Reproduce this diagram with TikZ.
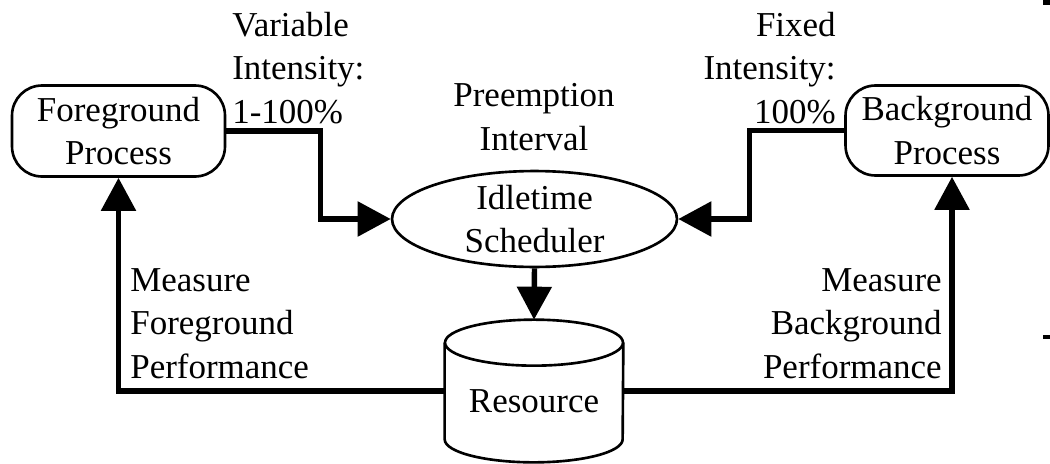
\documentclass[tikz,border=0pt]{standalone}
\usepackage{fontspec}
\setmainfont{Liberation Serif}
\usetikzlibrary{arrows.meta,shapes.geometric,calc}
\begin{document}
\begin{tikzpicture}[x=0.02cm,y=-0.02cm,
  txt/.style={font=\fontsize{19.9}{24.6}\selectfont, inner sep=0pt},
  shapeline/.style={draw, line width=1.5pt},
  proc/.style={shapeline, rounded corners=0.6cm, align=center, txt},
  conn/.style={line width=3.1pt, -{Triangle[length=0.66cm,width=0.68cm]}},
 ]
\useasboundingbox (0,0) rectangle (1050,463);

% nodes
\node[proc, minimum width=4.26cm, minimum height=1.82cm] (fg) at (118.5,131) {Foreground\\Process};
\node[proc, minimum width=4.06cm, minimum height=1.8cm] (bg) at (947,130.5) {Background\\Process};
\node[ellipse, shapeline, txt, align=center, minimum width=5.7cm, minimum height=1.76cm] (sch) at (534.5,219) {Idletime\\Scheduler};
\node[minimum width=3.56cm, minimum height=2.84cm, inner sep=0pt] (res) at (534,391) {};
\node[txt, anchor=base] (restxt) at (534,412) {Resource};

% cylinder outline
\draw[line width=1.5pt] ([yshift=-0.46cm]res.north) ellipse [x radius=1.78cm, y radius=0.46cm];
\draw[line width=1.5pt] ([yshift=-0.46cm]res.north west) -- ([yshift=0.46cm]res.south west)
  arc[start angle=180, end angle=360, x radius=1.78cm, y radius=0.46cm]
  -- ([yshift=-0.46cm]res.north east);

% labels (base anchor = baseline of last line)
\node[txt, align=left, anchor=base west] (lvar) at (232,123) {Variable\\Intensity:\\1-100\%};
\node[txt, align=right, anchor=base east] (lfix) at (836,123) {Fixed\\Intensity:\\100\%};
\node[txt, align=center, anchor=base] (lpre) at (534,150) {Preemption\\Interval};
\node[txt, align=left, anchor=base west] (lmf) at (130,378) {Measure\\Foreground\\Performance};
\node[txt, align=right, anchor=base east] (lmb) at (942,378) {Measure\\Background\\Performance};

% connectors
\draw[conn] (fg.east) -| ([xshift=-1.4cm]sch.west) -- (sch.west);
\draw[conn] (bg.west) -| ([xshift=1.42cm]sch.east) -- (sch.east);
\draw[conn] (sch.south) -- (res.north);
\draw[conn] (res.west) -| (fg.south);
\draw[conn] (res.east) -| ([xshift=0.1cm]bg.south);

% edge marks
\fill (1043,0) rectangle (1050,5);
\fill (1043,335) rectangle (1050,339);
\end{tikzpicture}
\end{document}
